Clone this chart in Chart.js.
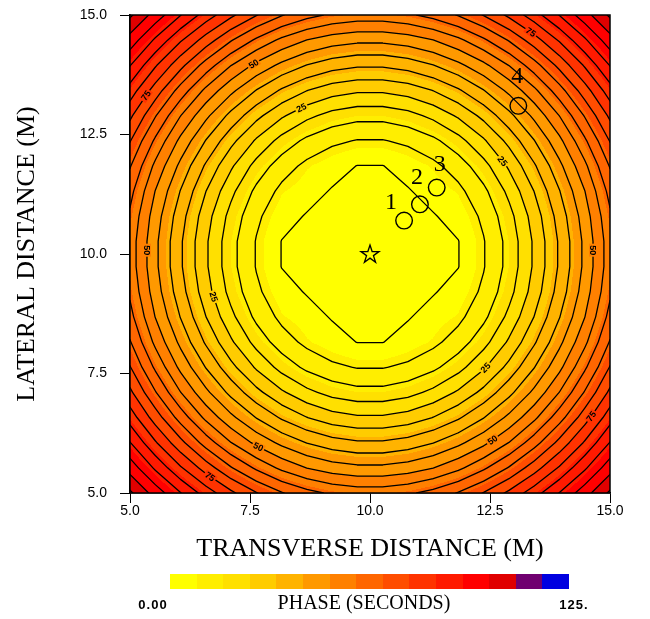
<!DOCTYPE html>
<html lang="en">
<head>
<meta charset="UTF-8">
<title>Phase contours</title>
<script src="https://cdn.jsdelivr.net/npm/chart.js@4.4.0/dist/chart.umd.min.js"></script>
<style>
    body { margin: 0; background: #fff; }
    #wrap { width: 650px; height: 619px; }
</style>
</head>
<body>
<div id="wrap"><canvas id="phaseChart" width="650" height="619"></canvas></div>
<script>
// grid nodes (metres), 20 x 20
const gridX = [5.000, 5.526, 6.053, 6.579, 7.105, 7.632, 8.158, 8.684, 9.211, 9.737,
               10.263, 10.789, 11.316, 11.842, 12.368, 12.895, 13.421, 13.947, 14.474, 15.000];
const gridY = [5.000, 5.526, 6.053, 6.579, 7.105, 7.632, 8.158, 8.684, 9.211, 9.737,
               10.263, 10.789, 11.316, 11.842, 12.368, 12.895, 13.421, 13.947, 14.474, 15.000];
// phase in seconds at each node, one row per gridY value (y = 5 first)
const phase = [
    [105.9, 97.9, 90.2, 82.8, 76.1, 70.3, 65.4, 61.7, 59.1, 57.8, 57.8, 59.1, 61.7, 65.4, 70.3, 76.1, 82.8, 90.2, 97.9, 105.9],
    [97.9, 89.2, 80.6, 72.7, 65.4, 59.1, 53.8, 49.9, 47.5, 46.2, 46.2, 47.5, 49.9, 53.8, 59.1, 65.4, 72.7, 80.6, 89.2, 97.9],
    [90.2, 80.6, 71.5, 62.9, 55.1, 48.7, 43.7, 39.8, 37.1, 35.7, 35.7, 37.1, 39.8, 43.7, 48.7, 55.1, 62.9, 71.5, 80.6, 90.2],
    [82.8, 72.7, 62.9, 53.8, 46.2, 39.8, 34.3, 30.1, 27.2, 25.8, 25.8, 27.2, 30.1, 34.3, 39.8, 46.2, 53.8, 62.9, 72.7, 82.8],
    [76.1, 65.4, 55.1, 46.2, 38.5, 31.5, 25.8, 21.3, 18.2, 16.7, 16.7, 18.2, 21.3, 25.8, 31.5, 38.5, 46.2, 55.1, 65.4, 76.1],
    [70.3, 59.1, 48.7, 39.8, 31.5, 24.3, 18.2, 13.8, 11.0, 9.7, 9.7, 11.0, 13.8, 18.2, 24.3, 31.5, 39.8, 48.7, 59.1, 70.3],
    [65.4, 53.8, 43.7, 34.3, 25.8, 18.2, 12.4, 8.7, 6.5, 4.9, 4.9, 6.5, 8.7, 12.4, 18.2, 25.8, 34.3, 43.7, 53.8, 65.4],
    [61.7, 49.9, 39.8, 30.1, 21.3, 13.8, 8.7, 6.5, 4.7, 2.5, 2.5, 4.7, 6.5, 8.7, 13.8, 21.3, 30.1, 39.8, 49.9, 61.7],
    [59.1, 47.5, 37.1, 27.2, 18.2, 11.0, 6.5, 4.7, 3.0, 1.0, 1.0, 3.0, 4.7, 6.5, 11.0, 18.2, 27.2, 37.1, 47.5, 59.1],
    [57.8, 46.2, 35.7, 25.8, 16.7, 9.7, 4.9, 2.5, 1.0, 0.0, 0.0, 1.0, 2.5, 4.9, 9.7, 16.7, 25.8, 35.7, 46.2, 57.8],
    [57.8, 46.2, 35.7, 25.8, 16.7, 9.7, 4.9, 2.5, 1.0, 0.0, 0.0, 1.0, 2.5, 4.9, 9.7, 16.7, 25.8, 35.7, 46.2, 57.8],
    [59.1, 47.5, 37.1, 27.2, 18.2, 11.0, 6.5, 4.7, 3.0, 1.0, 1.0, 3.0, 4.7, 6.5, 11.0, 18.2, 27.2, 37.1, 47.5, 59.1],
    [61.7, 49.9, 39.8, 30.1, 21.3, 13.8, 8.7, 6.5, 4.7, 2.5, 2.5, 4.7, 6.5, 8.7, 13.8, 21.3, 30.1, 39.8, 49.9, 61.7],
    [65.4, 53.8, 43.7, 34.3, 25.8, 18.2, 12.4, 8.7, 6.5, 4.9, 4.9, 6.5, 8.7, 12.4, 18.2, 25.8, 34.3, 43.7, 53.8, 65.4],
    [70.3, 59.1, 48.7, 39.8, 31.5, 24.3, 18.2, 13.8, 11.0, 9.7, 9.7, 11.0, 13.8, 18.2, 24.3, 31.5, 39.8, 48.7, 59.1, 70.3],
    [76.1, 65.4, 55.1, 46.2, 38.5, 31.5, 25.8, 21.3, 18.2, 16.7, 16.7, 18.2, 21.3, 25.8, 31.5, 38.5, 46.2, 55.1, 65.4, 76.1],
    [82.8, 72.7, 62.9, 53.8, 46.2, 39.8, 34.3, 30.1, 27.2, 25.8, 25.8, 27.2, 30.1, 34.3, 39.8, 46.2, 53.8, 62.9, 72.7, 82.8],
    [90.2, 80.6, 71.5, 62.9, 55.1, 48.7, 43.7, 39.8, 37.1, 35.7, 35.7, 37.1, 39.8, 43.7, 48.7, 55.1, 62.9, 71.5, 80.6, 90.2],
    [97.9, 89.2, 80.6, 72.7, 65.4, 59.1, 53.8, 49.9, 47.5, 46.2, 46.2, 47.5, 49.9, 53.8, 59.1, 65.4, 72.7, 80.6, 89.2, 97.9],
    [105.9, 97.9, 90.2, 82.8, 76.1, 70.3, 65.4, 61.7, 59.1, 57.8, 57.8, 59.1, 61.7, 65.4, 70.3, 76.1, 82.8, 90.2, 97.9, 105.9]
];
const contourLevels = [5, 10, 15, 20, 25, 30, 35, 40, 45, 50, 55, 60, 65, 70, 75, 80, 85, 90, 95, 100, 105];

// where the contour labels sit (approximate, snapped onto the line)
const labelX = [7.56, 13.33, 5.31, 8.56, 12.73, 5.31, 14.67, 6.67, 12.44, 14.63, 12.58, 7.65, 6.63];
const labelY = [14.0, 14.61, 13.33, 13.08, 11.92, 10.08, 10.08, 9.08, 7.59, 6.59, 6.07, 5.92, 5.29];
const labelLevel = [50, 75, 75, 25, 25, 50, 50, 25, 25, 75, 50, 50, 75];

const stationX = [10.71, 11.04, 11.39, 13.09];
const stationY = [10.70, 11.04, 11.39, 13.10];
const stationNames = ['1', '2', '3', '4'];
const sourceX = [10];
const sourceY = [10];

const fillColors = ['#FFFF00', '#FFEE00', '#FFE000', '#FFCC00', '#FFB300', '#FF9900', '#FF8000', '#FF6600',
                    '#FF4D00', '#FF3300', '#FF1A00', '#FF0000', '#E00000', '#700070', '#0000E0'];
const barMin = 0;
const barMax = 125;
const barLabels = ['0.00', '125.'];

// pixel offsets of the station numbers from their circles
const numberOffsets = [[-13, -18], [-3, -27], [3, -23], [-1, -29]];

function nodeIndex(arr, v) {
    let i = 0;
    while (i < arr.length - 2 && v > arr[i + 1]) i++;
    return i;
}

// bilinear reading of the grid
function phaseAt(x, y) {
    const i = nodeIndex(gridX, x), j = nodeIndex(gridY, y);
    const u = (x - gridX[i]) / (gridX[i + 1] - gridX[i]);
    const v = (y - gridY[j]) / (gridY[j + 1] - gridY[j]);
    const a = phase[j][i], b = phase[j][i + 1];
    const c = phase[j + 1][i], d = phase[j + 1][i + 1];
    return (a * (1 - u) + b * u) * (1 - v) + (c * (1 - u) + d * u) * v;
}

function binFor(p) {
    const step = (barMax - barMin) / fillColors.length;
    const k = Math.floor((p - barMin) / step);
    return Math.max(0, Math.min(fillColors.length - 1, k));
}

function hexToRgb(h) {
    return [parseInt(h.slice(1, 3), 16), parseInt(h.slice(3, 5), 16), parseInt(h.slice(5, 7), 16)];
}

function makeStar() {
    const c = document.createElement('canvas');
    c.width = 24; c.height = 24;
    const g = c.getContext('2d');
    const R = 9.5, r = R * 0.382;
    g.beginPath();
    for (let k = 0; k < 10; k++) {
        const rad = k % 2 ? r : R;
        const a = -Math.PI / 2 + k * Math.PI / 5;
        const px = 12 + rad * Math.cos(a), py = 12.5 + rad * Math.sin(a);
        if (k) g.lineTo(px, py); else g.moveTo(px, py);
    }
    g.closePath();
    g.lineWidth = 1.3;
    g.strokeStyle = '#000';
    g.stroke();
    return c;
}

function snapToLevel(x, y, L) {
    const h = 1e-3;
    for (let n = 0; n < 10; n++) {
        const f = phaseAt(x, y) - L;
        const gx = (phaseAt(x + h, y) - phaseAt(x - h, y)) / (2 * h);
        const gy = (phaseAt(x, y + h) - phaseAt(x, y - h)) / (2 * h);
        const g2 = gx * gx + gy * gy;
        if (!g2) break;
        x -= f * gx / g2;
        y -= f * gy / g2;
    }
    return [x, y];
}

const phaseField = {
    id: 'phaseField',
    beforeDatasetsDraw(chart) {
        const {ctx, chartArea: area, scales: {x: xs, y: ys}} = chart;
        const w = Math.round(area.right - area.left), h = Math.round(area.bottom - area.top);
        const off = document.createElement('canvas');
        off.width = w; off.height = h;
        const octx = off.getContext('2d');
        const img = octx.createImageData(w, h);
        const rgb = fillColors.map(hexToRgb);
        for (let py = 0; py < h; py++) {
            const yv = ys.getValueForPixel(area.top + py + 0.5);
            for (let px = 0; px < w; px++) {
                const xv = xs.getValueForPixel(area.left + px + 0.5);
                const col = rgb[binFor(phaseAt(xv, yv))];
                const o = (py * w + px) * 4;
                img.data[o] = col[0]; img.data[o + 1] = col[1]; img.data[o + 2] = col[2]; img.data[o + 3] = 255;
            }
        }
        octx.putImageData(img, 0, 0);
        ctx.save();
        ctx.drawImage(off, area.left, area.top);

        // contour lines: marching squares over the grid cells
        ctx.beginPath();
        ctx.rect(area.left, area.top, area.right - area.left, area.bottom - area.top);
        ctx.clip();
        ctx.beginPath();
        for (const L of contourLevels) {
            for (let j = 0; j < gridY.length - 1; j++) {
                for (let i = 0; i < gridX.length - 1; i++) {
                    const x0 = gridX[i], x1 = gridX[i + 1], y0 = gridY[j], y1 = gridY[j + 1];
                    const corner = [[x0, y0, phase[j][i]], [x1, y0, phase[j][i + 1]],
                                    [x1, y1, phase[j + 1][i + 1]], [x0, y1, phase[j + 1][i]]];
                    const pts = [];
                    for (let e = 0; e < 4; e++) {
                        const p = corner[e], q = corner[(e + 1) % 4];
                        if ((p[2] < L) !== (q[2] < L)) {
                            const t = (L - p[2]) / (q[2] - p[2]);
                            pts.push([p[0] + t * (q[0] - p[0]), p[1] + t * (q[1] - p[1])]);
                        }
                    }
                    for (let k = 0; k + 1 < pts.length; k += 2) {
                        ctx.moveTo(xs.getPixelForValue(pts[k][0]), ys.getPixelForValue(pts[k][1]));
                        ctx.lineTo(xs.getPixelForValue(pts[k + 1][0]), ys.getPixelForValue(pts[k + 1][1]));
                    }
                }
            }
        }
        ctx.strokeStyle = '#000';
        ctx.lineWidth = 1.3;
        ctx.lineCap = 'round';
        ctx.lineJoin = 'round';
        ctx.stroke();

        // contour labels
        const pxX = xs.getPixelForValue(1) - xs.getPixelForValue(0);
        const pxY = ys.getPixelForValue(1) - ys.getPixelForValue(0);
        ctx.font = 'bold 9px "Liberation Sans", Arial, sans-serif';
        ctx.textAlign = 'center';
        ctx.textBaseline = 'middle';
        labelLevel.forEach((L, k) => {
            const [lx, ly] = snapToLevel(labelX[k], labelY[k], L);
            const d = 0.05;
            const gx = (phaseAt(lx + d, ly) - phaseAt(lx - d, ly)) / (2 * d) / pxX;
            const gy = (phaseAt(lx, ly + d) - phaseAt(lx, ly - d)) / (2 * d) / pxY;
            let ang = Math.atan2(gx, -gy);
            if (ang > Math.PI / 2) ang -= Math.PI;
            if (ang < -Math.PI / 2) ang += Math.PI;
            const text = String(L);
            const tw = ctx.measureText(text).width;
            ctx.save();
            ctx.translate(xs.getPixelForValue(lx), ys.getPixelForValue(ly));
            ctx.rotate(ang);
            ctx.fillStyle = fillColors[binFor(L)];
            ctx.fillRect(-tw / 2 - 1.5, -4, tw + 3, 8);
            ctx.fillStyle = '#000';
            ctx.fillText(text, 0, 0.5);
            ctx.restore();
        });
        ctx.restore();
    },
    afterDraw(chart) {
        const {ctx, chartArea: area} = chart;
        ctx.save();
        ctx.strokeStyle = '#000';
        ctx.lineWidth = 1.5;
        ctx.strokeRect(area.left, area.top, area.right - area.left, area.bottom - area.top);

        // station numbers
        const meta = chart.getDatasetMeta(0);
        ctx.fillStyle = '#000';
        ctx.font = '24px "Liberation Serif", "Times New Roman", serif';
        ctx.textAlign = 'center';
        ctx.textBaseline = 'middle';
        meta.data.forEach((pt, k) => {
            ctx.fillText(stationNames[k], pt.x + numberOffsets[k][0], pt.y + numberOffsets[k][1]);
        });

        // colour bar
        const bx0 = 170, bx1 = 569, by = 574, bh = 15;
        const n = fillColors.length;
        for (let k = 0; k < n; k++) {
            const a = Math.round(bx0 + (bx1 - bx0) * k / n);
            const b = Math.round(bx0 + (bx1 - bx0) * (k + 1) / n);
            ctx.fillStyle = fillColors[k];
            ctx.fillRect(a, by, b - a, bh);
        }
        ctx.fillStyle = '#000';
        ctx.font = '20px "Liberation Serif", "Times New Roman", serif';
        ctx.fillText('PHASE (SECONDS)', 364, 604);
        ctx.font = 'bold 13px "Liberation Sans", Arial, sans-serif';
        ctx.letterSpacing = '1px';
        ctx.fillText(barLabels[0], 153, 605);
        ctx.fillText(barLabels[1], 574, 605);
        ctx.restore();
    }
};

const tickFont = {family: '"Liberation Sans", Arial, sans-serif', size: 14};
const titleFont = {family: '"Liberation Serif", "Times New Roman", serif', size: 26};

new Chart(document.getElementById('phaseChart'), {
    type: 'scatter',
    data: {
        datasets: [
            {
                label: 'Stations',
                data: stationX.map((x, k) => ({x: x, y: stationY[k]})),
                pointStyle: 'circle',
                pointRadius: 8.3,
                pointHoverRadius: 8.3,
                borderColor: '#000',
                borderWidth: 1.4,
                backgroundColor: 'rgba(0,0,0,0)'
            },
            {
                label: 'Source',
                data: sourceX.map((x, k) => ({x: x, y: sourceY[k]})),
                pointStyle: makeStar(),
                pointRadius: 10
            }
        ]
    },
    options: {
        responsive: false,
        animation: false,
        devicePixelRatio: 1,
        events: [],
        layout: {padding: {top: 15, right: 40, bottom: 0, left: 0}},
        plugins: {legend: {display: false}, tooltip: {enabled: false}},
        scales: {
            x: {
                type: 'linear',
                min: 5,
                max: 15,
                afterFit: s => { s.height = 126; },
                ticks: {stepSize: 2.5, padding: 0, maxRotation: 0, color: '#000', font: tickFont,
                        callback: v => v.toFixed(1)},
                grid: {drawOnChartArea: false, tickLength: 10, color: '#000'},
                border: {color: '#000', width: 1.5},
                title: {display: true, text: 'TRANSVERSE DISTANCE (M)', color: '#000', font: titleFont,
                        padding: {top: 0, bottom: 54}}
            },
            y: {
                type: 'linear',
                min: 5,
                max: 15,
                afterFit: s => { s.width = 130; s.paddingTop = 0; s.paddingBottom = 0; },
                ticks: {stepSize: 2.5, padding: 13, color: '#000', font: tickFont,
                        callback: v => v.toFixed(1)},
                grid: {drawOnChartArea: false, tickLength: 10, color: '#000'},
                border: {color: '#000', width: 1.5},
                title: {display: true, text: 'LATERAL DISTANCE (M)', color: '#000', font: titleFont,
                        padding: {top: 12, bottom: 0}}
            }
        }
    },
    plugins: [phaseField]
});
</script>
</body>
</html>
